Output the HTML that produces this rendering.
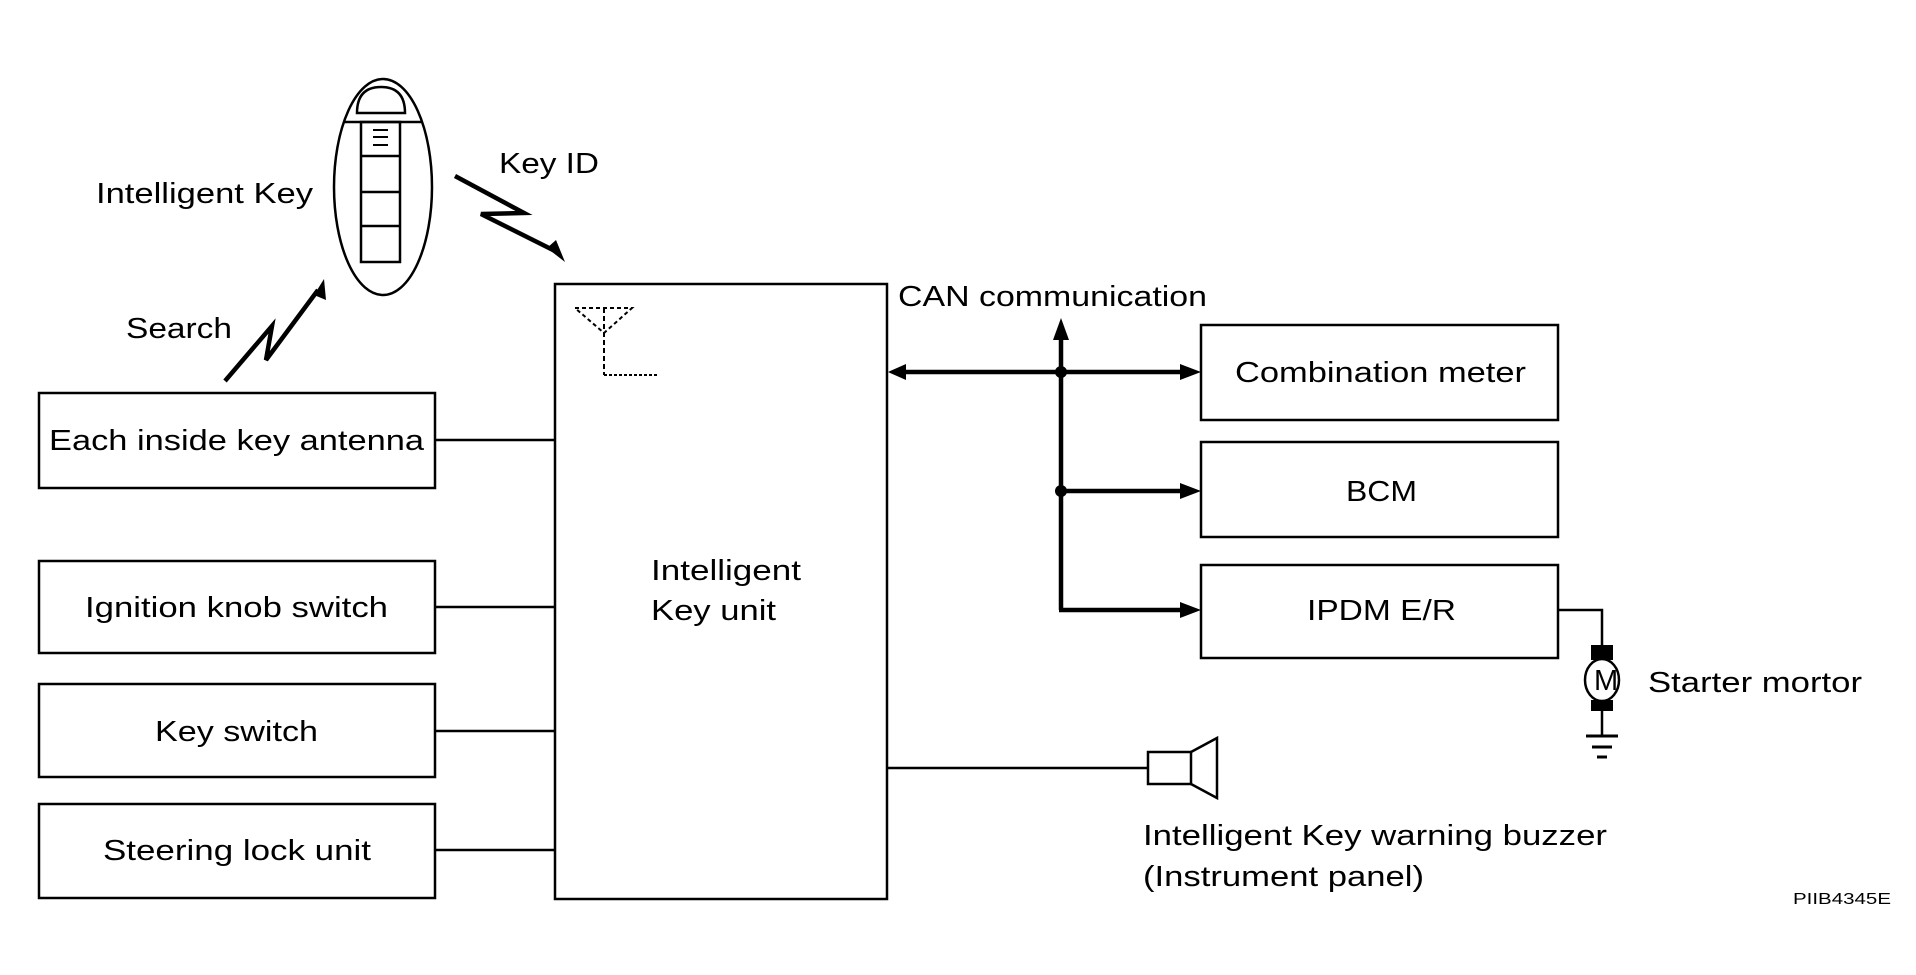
<!DOCTYPE html>
<html><head><meta charset="utf-8"><style>
html,body{margin:0;padding:0;background:#fff;}
svg{display:block;}
text{font-family:"Liberation Sans",Arial,sans-serif;font-size:29px;fill:#000;}
</style></head><body>
<svg width="1916" height="975" viewBox="0 0 1916 975" xmlns="http://www.w3.org/2000/svg">
<g fill="none" stroke="#000" stroke-width="2.5">
<!-- key fob -->
<ellipse cx="383" cy="187" rx="49" ry="108"/>
<path d="M357,113 Q357,87 381,87 Q405,87 405,113 Z"/>
<line x1="344" y1="122" x2="422" y2="122"/>
<rect x="361" y="122" width="39" height="140"/>
<line x1="361" y1="156" x2="400" y2="156"/>
<line x1="361" y1="192" x2="400" y2="192"/>
<line x1="361" y1="226" x2="400" y2="226"/>
<line x1="373" y1="130" x2="388" y2="130" stroke-width="2"/>
<line x1="373" y1="137" x2="388" y2="137" stroke-width="2"/>
<line x1="373" y1="145" x2="388" y2="145" stroke-width="2"/>
<!-- lightning -->
<polyline points="455,176 524,213 481,214 557,252" stroke-width="4.5"/>
<polyline points="225,381 272,326 266,360 318,290" stroke-width="4.5"/>
<!-- unit box -->
<rect x="555" y="284" width="332" height="615"/>
<!-- antenna -->
<path d="M575,308 L632,308 L604,333 Z" stroke-dasharray="4,3" stroke-width="2"/>
<line x1="604" y1="308" x2="604" y2="375" stroke-dasharray="5,3" stroke-width="2"/>
<line x1="604" y1="375" x2="657" y2="375" stroke-dasharray="3,2" stroke-width="2"/>
<!-- left boxes -->
<rect x="39" y="393" width="396" height="95"/>
<rect x="39" y="561" width="396" height="92"/>
<rect x="39" y="684" width="396" height="93"/>
<rect x="39" y="804" width="396" height="94"/>
<line x1="435" y1="440" x2="555" y2="440"/>
<line x1="435" y1="607" x2="555" y2="607"/>
<line x1="435" y1="731" x2="555" y2="731"/>
<line x1="435" y1="850" x2="555" y2="850"/>
<!-- right boxes -->
<rect x="1201" y="325" width="357" height="95"/>
<rect x="1201" y="442" width="357" height="95"/>
<rect x="1201" y="565" width="357" height="93"/>
<!-- bus -->
<g stroke-width="4.5">
<line x1="900" y1="372" x2="1182" y2="372"/>
<line x1="1061" y1="336" x2="1061" y2="610"/>
<line x1="1061" y1="491" x2="1182" y2="491"/>
<line x1="1059" y1="610" x2="1182" y2="610"/>
</g>
<!-- IPDM to motor -->
<polyline points="1558,610 1602,610 1602,650"/>
<line x1="1602" y1="708" x2="1602" y2="736"/>
<ellipse cx="1602" cy="680" rx="17" ry="21"/>
<line x1="1586" y1="736" x2="1618" y2="736" stroke-width="3"/>
<line x1="1592" y1="747" x2="1612" y2="747" stroke-width="3"/>
<line x1="1597" y1="757" x2="1607" y2="757" stroke-width="3"/>
<!-- buzzer -->
<line x1="887" y1="768" x2="1148" y2="768"/>
<rect x="1148" y="752" width="43" height="32"/>
<path d="M1191,752 L1217,738 L1217,798 L1191,784"/>
</g>
<g fill="#000">
<polygon points="565,262 547,248 556,240"/>
<polygon points="324,279 326,300 314,295"/>
<polygon points="888,372 906,364 906,380"/>
<polygon points="1201,372 1180,364 1180,380"/>
<polygon points="1201,491 1180,483 1180,499"/>
<polygon points="1201,610 1180,602 1180,618"/>
<polygon points="1061,318 1053,340 1069,340"/>
<circle cx="1061" cy="372" r="6"/>
<circle cx="1061" cy="491" r="6"/>
<rect x="1591" y="645" width="22" height="15"/>
<rect x="1591" y="700" width="22" height="11"/>
</g>
<text x="96" y="203" textLength="217" lengthAdjust="spacingAndGlyphs">Intelligent Key</text>
<text x="499" y="173" textLength="100" lengthAdjust="spacingAndGlyphs">Key ID</text>
<text x="126" y="338" textLength="106" lengthAdjust="spacingAndGlyphs">Search</text>
<text x="898" y="306" textLength="309" lengthAdjust="spacingAndGlyphs">CAN communication</text>
<text x="49" y="450" textLength="375" lengthAdjust="spacingAndGlyphs">Each inside key antenna</text>
<text x="85" y="617" textLength="303" lengthAdjust="spacingAndGlyphs">Ignition knob switch</text>
<text x="155" y="741" textLength="163" lengthAdjust="spacingAndGlyphs">Key switch</text>
<text x="103" y="860" textLength="268" lengthAdjust="spacingAndGlyphs">Steering lock unit</text>
<text x="651" y="580" textLength="150" lengthAdjust="spacingAndGlyphs">Intelligent</text>
<text x="651" y="620" textLength="125" lengthAdjust="spacingAndGlyphs">Key unit</text>
<text x="1235" y="382" textLength="291" lengthAdjust="spacingAndGlyphs">Combination meter</text>
<text x="1346" y="501" textLength="71" lengthAdjust="spacingAndGlyphs">BCM</text>
<text x="1307" y="620" textLength="149" lengthAdjust="spacingAndGlyphs">IPDM E/R</text>
<text x="1594" y="690" font-size="26">M</text>
<text x="1648" y="692" textLength="214" lengthAdjust="spacingAndGlyphs">Starter mortor</text>
<text x="1143" y="845" textLength="464" lengthAdjust="spacingAndGlyphs">Intelligent Key warning buzzer</text>
<text x="1143" y="886" textLength="281" lengthAdjust="spacingAndGlyphs">(Instrument panel)</text>
<text x="1793" y="904" style="font-size:16px" textLength="98" lengthAdjust="spacingAndGlyphs">PIIB4345E</text>
</svg>
</body></html>
